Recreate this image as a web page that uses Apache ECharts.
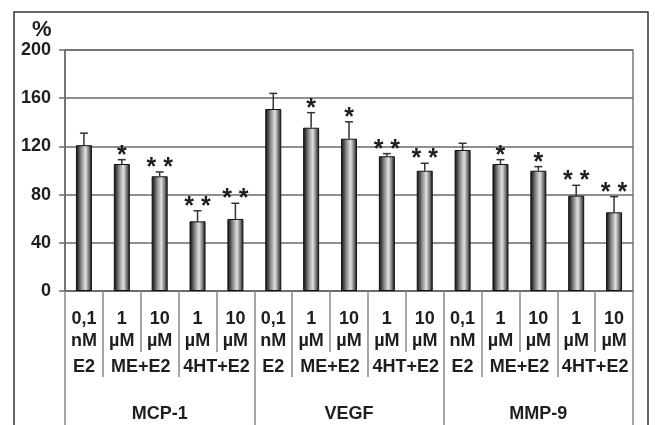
<!DOCTYPE html>
<html>
<head>
<meta charset="utf-8">
<script src="https://cdn.jsdelivr.net/npm/echarts@6/dist/echarts.min.js"></script>
<style>
html,body{margin:0;padding:0;background:#fff;}
#c{width:655px;height:425px;}
</style>
</head>
<body>
<div id="c"></div>
<script>
// ---- data ----
const doseLabels = ['0,1\nnM','1\nµM','10\nµM','1\nµM','10\nµM',
                    '0,1\nnM','1\nµM','10\nµM','1\nµM','10\nµM',
                    '0,1\nnM','1\nµM','10\nµM','1\nµM','10\nµM'];
const treatmentLabels = ['E2','ME+E2','4HT+E2','E2','ME+E2','4HT+E2','E2','ME+E2','4HT+E2'];
const treatmentSpans  = [1,2,2,1,2,2,1,2,2];
const markerLabels = ['MCP-1','VEGF','MMP-9'];
const markerSpans  = [5,5,5];
const values = [121,105.4,95.2,57.8,59.8, 151,135.5,126.4,111.8,99.8, 117,105.4,99.8,79.1,65.3];
const errors = [10,3.6,3.6,8.8,13, 13,12.5,14,2.2,6.2, 5.6,3.6,3.4,8.6,13];
const stars  = ['','*','* *','* *','* *', '','*','*','* *','* *', '','*','*','* *','* *'];
const yTicks = [0,40,80,120,160,200];

// ---- derived positions for group axes ----
function bounds(spans){const b=[0];spans.forEach(s=>b.push(b[b.length-1]+s));return b;}
function centers(spans){const b=bounds(spans);return spans.map((s,i)=>b[i]+s/2);}
const tBounds = bounds(treatmentSpans), tCenters = centers(treatmentSpans);
const mBounds = bounds(markerSpans), mCenters = centers(markerSpans);
const N = doseLabels.length;

const txt = '#1e1e1e';
const font = '"Liberation Sans", Arial, sans-serif';
const sepColor = '#8a8a8a';
const fs = 18;

const chart = echarts.init(document.getElementById('c'), null, {renderer:'canvas'});
const option = {
  animation:false,
  backgroundColor:'#fff',
  title:{text:'%', left:27, top:14, textStyle:{fontFamily:font, fontWeight:'bold', fontSize:22, color:txt}},
  grid:{left:65, right:22, top:50, bottom:134, show:true, borderColor:'#7a7a7a', borderWidth:1.5, backgroundColor:'transparent'},
  graphic:[{type:'rect', shape:{x:14, y:12, width:634, height:600}, style:{fill:'none', stroke:'#333', lineWidth:1.5}, silent:true, z:-1}],
  xAxis:[
    {type:'category', data:doseLabels, position:'bottom',
     axisLine:{show:true, lineStyle:{color:'#6a6a6a', width:1.5}},
     axisTick:{show:true, length:61, alignWithLabel:false, lineStyle:{color:sepColor, width:1.5}},
     axisLabel:{interval:0, margin:17, lineHeight:22, fontFamily:font, fontWeight:'bold', fontSize:fs, color:txt},
     splitLine:{show:false}},
    {type:'value', min:0, max:N, position:'bottom',
     axisLine:{show:false}, splitLine:{show:false},
     axisTick:{show:true, length:86, customValues:tBounds, lineStyle:{color:sepColor, width:1.5}},
     axisLabel:{customValues:tCenters, margin:67, lineHeight:18, fontFamily:font, fontWeight:'bold', fontSize:fs, color:txt,
       formatter:(v)=>{const i=tCenters.indexOf(v);return i>=0?treatmentLabels[i]:'';}}},
    {type:'value', min:0, max:N, position:'bottom',
     axisLine:{show:false}, splitLine:{show:false},
     axisTick:{show:true, length:140, customValues:mBounds, lineStyle:{color:sepColor, width:1.5}},
     axisLabel:{customValues:mCenters, margin:114, lineHeight:18, fontFamily:font, fontWeight:'bold', fontSize:fs, color:txt,
       formatter:(v)=>{const i=mCenters.indexOf(v);return i>=0?markerLabels[i]:'';}}}
  ],
  yAxis:{type:'value', min:yTicks[0], max:yTicks[yTicks.length-1], interval:yTicks[1]-yTicks[0],
    axisLine:{show:true, lineStyle:{color:'#6a6a6a', width:1.5}},
    axisTick:{show:true, length:6, lineStyle:{color:'#6a6a6a', width:1.5}},
    axisLabel:{margin:14, fontFamily:font, fontWeight:'bold', fontSize:fs, color:txt},
    splitLine:{show:true, lineStyle:{color:'#6a6a6a', width:1.5}}},
  series:[
    {type:'bar', xAxisIndex:0, data:values, barWidth:16, z:2,
     itemStyle:{borderColor:'#111', borderWidth:1,
       color:new echarts.graphic.LinearGradient(0,0,1,0,[
         {offset:0,color:'#151515'},{offset:0.12,color:'#333'},{offset:0.35,color:'#909090'},
         {offset:0.6,color:'#e2e2e2'},{offset:0.8,color:'#808080'},{offset:1,color:'#0d0d0d'}])}},
    {type:'custom', xAxisIndex:0, z:5,
     data:values.map((v,i)=>[i,v,errors[i]]),
     renderItem:(params,api)=>{
       const x=api.value(0), v=api.value(1), e=api.value(2);
       const p0=api.coord([x,v]), p1=api.coord([x,v+e]);
       const children=[
         {type:'line', shape:{x1:p0[0],y1:p0[1],x2:p1[0],y2:p1[1]}, style:{stroke:'#333', lineWidth:1.5}},
         {type:'line', shape:{x1:p1[0]-4,y1:p1[1],x2:p1[0]+4,y2:p1[1]}, style:{stroke:'#333', lineWidth:1.5}}
       ];
       const s=stars[params.dataIndex];
       if(s){children.push({type:'text', style:{text:s, x:p1[0], y:p1[1]-4, align:'center', verticalAlign:'middle',
         font:'bold 25px '+font, fill:txt}});}
       return {type:'group', children};
     }}
  ]
};
chart.setOption(option);
</script>
</body>
</html>
